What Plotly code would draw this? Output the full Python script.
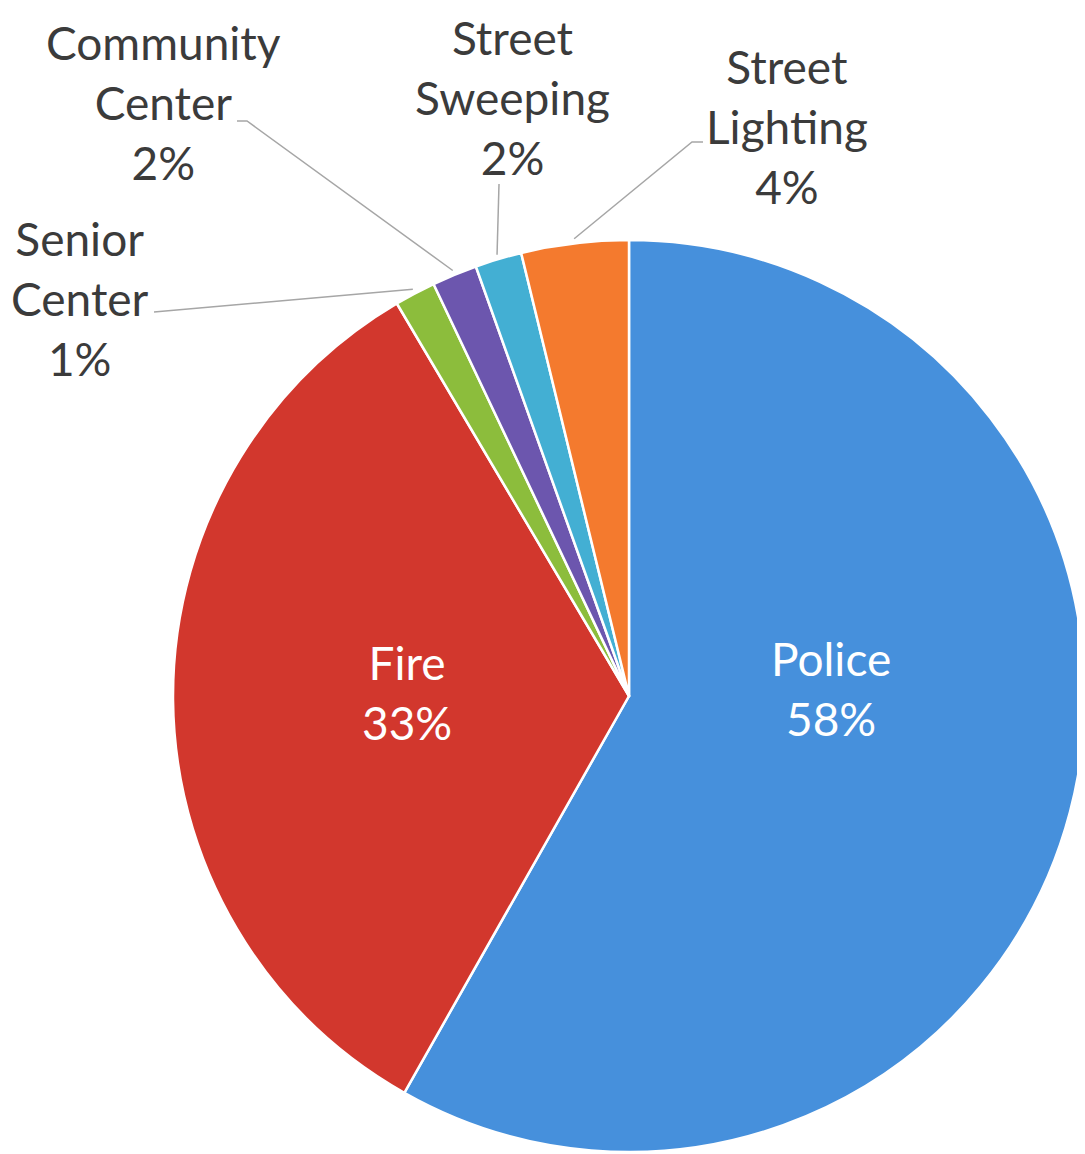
import math
import plotly.graph_objects as go

# ---- data ----
categories = ["Police", "Fire", "Senior<br>Center", "Community<br>Center", "Street<br>Sweeping", "Street<br>Lighting"]
values = [58.2, 33.3, 1.45, 1.6, 1.65, 3.8]
colors = ["#4690dc", "#d2372d", "#8cbd3c", "#6c56ae", "#43afd3", "#f47a2e"]

OFF = 8  # default page margin of the html body
W, H = 1085 - OFF, 1154 - OFF
ML, MT = 173 - OFF, 240 - OFF
pw = ph = 912
MR, MB = max(0, W - ML - pw), max(0, H - MT - ph)
R = pw / 2
CX, CY = ML + pw / 2, MT + ph / 2

FONT = "Lato"
TXT = "#3b3b3b"

def to_paper(sx, sy):
    # screen px -> paper coords
    px, py = sx - OFF, sy - OFF
    return (px - ML) / pw, 1 - (py - MT) / ph

fig = go.Figure(go.Pie(
    labels=categories, values=values, sort=False, direction="clockwise", rotation=0,
    marker=dict(colors=colors, line=dict(color="white", width=2.5)),
    textinfo="none",
    showlegend=False, hoverinfo="label+percent",
    domain=dict(x=[0, 1], y=[0, 1]),
))

# label placement (screen px) and leader start points
label_pos = {
    0: dict(tx=831, ty=688, inside=True),
    1: dict(tx=407, ty=692, inside=True),
    2: dict(tx=80, ty=298, lead=[(154, 312)]),
    3: dict(tx=163, ty=103, lead=[(237, 121), (247, 121)]),
    4: dict(tx=512, ty=97, lead=[(499, 184)]),
    5: dict(tx=787, ty=126, lead=[(703, 142), (692, 142)]),
}

total = sum(values)
cum = 0.0
mids = []
for v in values:
    mids.append(2 * math.pi * (cum + v / 2) / total)
    cum += v

shapes = []
annotations = []
for i, o in label_pos.items():
    pct = round(100 * values[i] / total)
    ax, ay = to_paper(o["tx"], o["ty"])
    inside = o.get("inside", False)
    annotations.append(dict(text=f"{categories[i]}<br>{pct}%", x=ax, y=ay, xref="paper", yref="paper",
                            xanchor="center", yanchor="middle", showarrow=False, align="center",
                            borderpad=0,
                            font=dict(family=FONT, size=46, color="white" if inside else TXT)))
    if inside:
        continue
    th = mids[i]
    # slice-edge point in screen px
    ex = CX + OFF + R * 1.01 * math.sin(th)
    ey = CY + OFF - R * 1.01 * math.cos(th)
    pts = o["lead"] + [(ex, ey)]
    path = "M " + " L ".join(f"{to_paper(x, y)[0]:.5f},{to_paper(x, y)[1]:.5f}" for x, y in pts)
    shapes.append(dict(type="path", path=path, xref="paper", yref="paper",
                       line=dict(color="#a6a6a6", width=1.5)))

fig.update_layout(
    width=W, height=H, margin=dict(l=ML, r=MR, t=MT, b=MB),
    paper_bgcolor="white", plot_bgcolor="white",
    shapes=shapes, annotations=annotations,
)
fig.write_html("out.html")
